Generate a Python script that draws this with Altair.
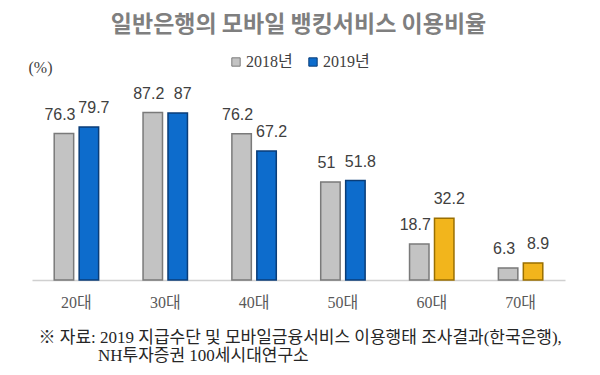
import altair as alt
import pandas as pd

ages = ["20대", "30대", "40대", "50대", "60대", "70대"]
v2018 = [76.3, 87.2, 76.2, 51, 18.7, 6.3]
v2019 = [79.7, 87, 67.2, 51.8, 32.2, 8.9]
years = ["2018년", "2019년"]
highlight_ages = ["60대", "70대"]

title_text = "일반은행의 모바일 뱅킹서비스 이용비율"
unit_text = "(%)"
note_line1 = "※ 자료: 2019 지급수단 및 모바일금융서비스 이용행태 조사결과(한국은행),"
note_line2 = "NH투자증권 100세시대연구소"

rows = []
for a, x18, x19 in zip(ages, v2018, v2019):
    rows.append({"age": a, "year": years[0], "value": x18, "key": "2018년"})
    rows.append({"age": a, "year": years[1], "value": x19,
                 "key": "2019년 고령" if a in highlight_ages else "2019년"})
df = pd.DataFrame(rows)

SERIF = "Liberation Serif, Noto Sans CJK KR"
SANS = "Liberation Sans, Noto Sans CJK KR"

keys = ["2018년", "2019년", "2019년 고령"]
fills = ["#c3c3c3", "#0d6ccc", "#f2b51c"]
strokes = ["#7a7a7a", "#0a3d78", "#9a6f00"]

xenc = alt.X(
    "age:N", sort=ages,
    scale=alt.Scale(paddingInner=0.5, paddingOuter=0.25),
    axis=alt.Axis(
        title=note_line1, labelAngle=0, ticks=False, labelPadding=14,
        labelFont=SERIF, labelFontSize=16, labelColor="#595959",
        domainColor="#d0d0d0", domainWidth=1.5,
        titleFont=SERIF, titleFontSize=17, titleFontWeight="normal",
        titleColor="#262626", titleAnchor="start", titleAlign="left",
        titleBaseline="middle", titleX=6, titleY=57,
    ),
)
yenc = alt.Y(
    "value:Q", scale=alt.Scale(domain=[0, 100], nice=False),
    axis=alt.Axis(
        title=unit_text, labels=False, ticks=False, domain=False, grid=False,
        titleAngle=0, titleFont=SERIF, titleFontSize=16, titleFontWeight="normal",
        titleColor="#404040", titleAlign="center", titleBaseline="middle",
        titleX=8, titleY=-21,
    ),
)
xoff = alt.XOffset("year:N", sort=years, scale=alt.Scale(paddingInner=0.22))

base = alt.Chart(df)

bars = base.mark_bar(strokeWidth=1.5).encode(
    x=xenc, y=yenc, xOffset=xoff,
    color=alt.Color(
        "key:N", scale=alt.Scale(domain=keys, range=fills),
        legend=alt.Legend(
            title=None, values=years, orient="none", legendX=196, legendY=-34,
            direction="horizontal", symbolType="square", symbolSize=70,
            symbolStrokeColor="#555555", symbolStrokeWidth=1,
            labelFont=SERIF, labelFontSize=16, labelColor="#404040",
            columnPadding=12, labelOffset=2,
        ),
    ),
    stroke=alt.Stroke("key:N", scale=alt.Scale(domain=keys, range=strokes), legend=None),
)

label_enc = dict(
    x=alt.X("age:N", sort=ages), y="value:Q", xOffset=xoff,
    text=alt.Text("value:Q", format=".1~f"),
)
labels18 = base.transform_filter(alt.datum.year == years[0]).mark_text(
    font=SANS, fontSize=16, color="#404040", baseline="alphabetic", dy=-14, dx=-4
).encode(**label_enc)
labels19 = base.transform_filter(alt.datum.year == years[1]).mark_text(
    font=SANS, fontSize=16, color="#404040", baseline="alphabetic", dy=-14, dx=5
).encode(**label_enc)

note2 = alt.Chart(pd.DataFrame({"t": [note_line2]})).mark_text(
    font=SERIF, fontSize=17, color="#262626", align="left", baseline="middle"
).encode(x=alt.value(66), y=alt.value(268), text="t:N")

chart = alt.layer(bars, labels18, labels19, note2).properties(
    width=533, height=192,
    autosize=alt.AutoSizeParams(type="none"),
    padding={"left": 32, "top": 88, "right": 35, "bottom": 95},
    title=alt.TitleParams(
        title_text, font="Noto Sans CJK KR", fontSize=23, fontWeight="bold",
        color="#7f7f7f", anchor="middle", offset=17,
    ),
).configure_view(stroke=None)

chart.save("out.html", embed_options={"renderer": "svg", "actions": False})
